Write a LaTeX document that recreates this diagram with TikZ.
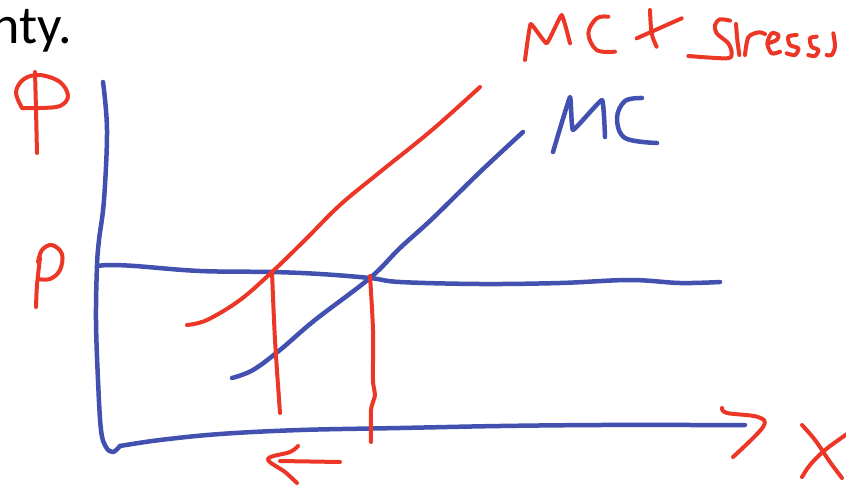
\documentclass[tikz,border=0pt]{standalone}
\usepackage{fontspec}
\setmainfont{Carlito}
\definecolor{pen red}{RGB}{236,54,38}
\definecolor{pen blue}{RGB}{66,80,175}
\begin{document}
\begin{tikzpicture}[x=1pt,y=-1pt,
  redink/.style={draw=pen red,line width=4pt,line cap=round,line join=round},
  blueink/.style={draw=pen blue,line width=4.5pt,line cap=round,line join=round}]
\useasboundingbox (0,0) rectangle (846,485);
% text
\node[anchor=base west,inner sep=0pt,font=\fontsize{54}{58}\selectfont] (txt) at (-9,43) {nty.};
% axes
\draw[blueink] plot[smooth,tension=0.6] coordinates {(103,82) (107,130) (104,200) (99,240) (97,266) (96,320) (98,380) (101,430) (106,447) (113,452) (120,446)};
\draw[blueink] plot[smooth,tension=0.6] coordinates {(120,446) (160,440) (220,434) (300,430) (400,428) (500,426) (600,425) (700,425) (745,425)};
% price line
\draw[blueink] plot[smooth,tension=0.6] coordinates {(97,266) (110,265) (135,266) (200,271) (272,272) (320,274) (370,278) (400,282) (480,284) (560,283) (630,280) (680,283) (720,282)};
% MC + stress curve
\draw[redink] plot[smooth,tension=0.6] coordinates {(187,325) (207,320) (240,300) (272,272) (305,240) (340,205) (380,172) (432,130) (480,87)};
% MC curve
\draw[blueink] plot[smooth,tension=0.6] coordinates {(232,378) (253,370) (280,350) (315,320) (370,278) (400,248) (432,219) (480,172) (523,132)};
% vertical drop lines
\draw[redink] plot[smooth] coordinates {(272,272) (275,340) (280,413)};
\draw[redink] plot[smooth,tension=0.5] coordinates {(370,276) (373,330) (373,380) (375,395) (371,410) (371,442)};
% left arrow
\draw[redink] (280,461) -- (340,462);
\draw[redink] plot[smooth,tension=0.6] coordinates {(298,446) (290,452) (268,459) (285,472) (297,483)};
% x-axis arrowhead
\draw[redink] plot[smooth,tension=0.6] coordinates {(722,408) (727,413) (758,417) (763,427) (733,457)};
% X label
\draw[redink] plot[smooth,tension=0.6] coordinates {(802,425) (815,440) (830,462) (842,478)};
\draw[redink] plot[smooth,tension=0.6] coordinates {(847,434) (825,450) (810,465) (802,477)};
% P top
\draw[redink] plot[smooth] coordinates {(35,72) (36,110) (37,153)};
\draw[redink] plot[smooth,tension=0.6] coordinates {(22,108) (16,92) (24,79) (40,75) (60,82) (68,96) (60,106) (40,108) (22,108)};
% P middle
\draw[redink] plot[smooth] coordinates {(40,258) (37,285) (36,307)};
\draw[redink] plot[smooth,tension=0.6] coordinates {(38,262) (42,250) (52,245) (62,254) (60,270) (50,279) (38,279)};
% MC blue label
\draw[blueink] plot[smooth,tension=0.2] coordinates {(553,152) (570,97) (573,130) (602,100) (605,137)};
\draw[blueink] plot[smooth,tension=0.6] coordinates {(642,98) (625,101) (617,118) (625,138) (657,143)};
% MC + red label
\begin{scope}[shift={(500,0)},x=0.3333pt,y=-0.3333pt]
\draw[redink] plot[smooth,tension=0.2] coordinates {(75,180) (92,72) (140,130) (185,45) (210,130)};
\draw[redink] plot[smooth,tension=0.6] coordinates {(325,50) (290,55) (265,100) (290,150) (345,155)};
\draw[redink] (410,115) -- (545,55);
\draw[redink] plot[smooth,tension=0.6] coordinates {(450,30) (455,100) (470,140)};
\end{scope}
% stress
\begin{scope}[shift={(680,0)},x=0.3333pt,y=-0.3333pt]
\draw[redink] plot[smooth,tension=0.5] coordinates {(150,62) (120,58) (105,75) (110,100) (145,130) (155,160) (140,175) (25,168)};
\draw[redink] plot[smooth,tension=0.5] coordinates {(168,72) (172,120) (178,165)};
\draw[redink] plot[smooth,tension=0.5] coordinates {(195,165) (205,112) (235,97) (255,102)};
\draw[redink] plot[smooth,tension=0.5] coordinates {(265,130) (290,120) (295,105) (275,100) (262,130) (275,160) (300,155)};
\draw[redink] plot[smooth,tension=0.5] coordinates {(350,105) (325,110) (330,135) (355,145) (345,165) (320,160)};
\draw[redink] plot[smooth,tension=0.5] coordinates {(410,110) (390,115) (395,140) (415,150) (405,168) (385,165)};
\draw[redink] plot[smooth,tension=0.5] coordinates {(460,100) (465,140) (455,165) (440,165)};
\end{scope}
\end{tikzpicture}
\end{document}
